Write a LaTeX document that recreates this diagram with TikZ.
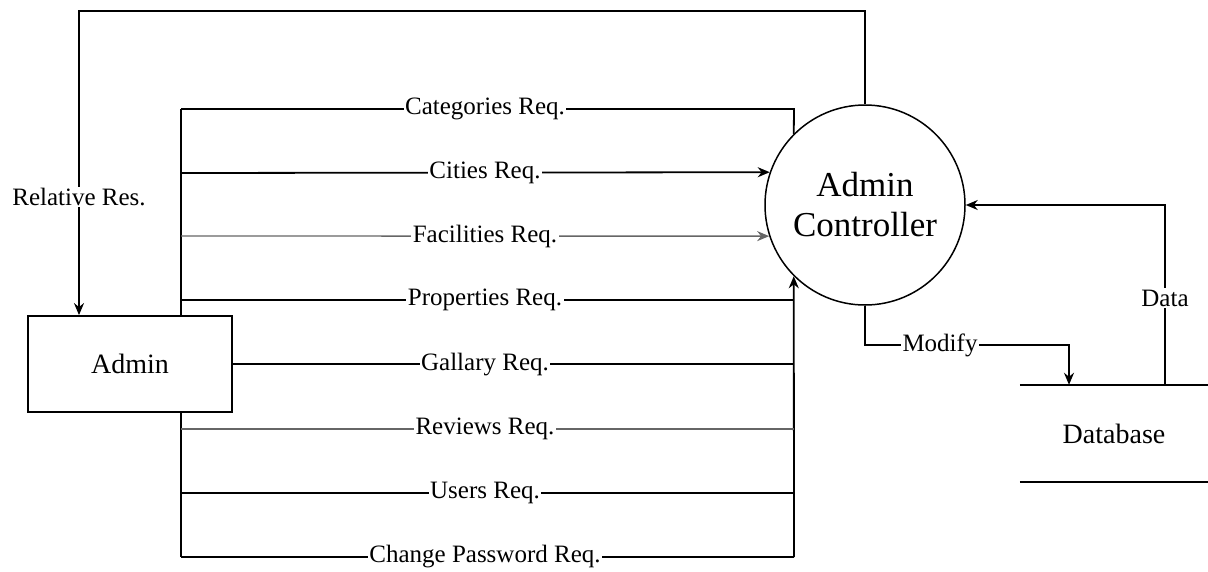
\documentclass[tikz,border=0pt]{standalone}
\usepackage{fontspec}
\setmainfont{Liberation Serif}
\usetikzlibrary{arrows.meta}
\begin{document}
\begin{tikzpicture}[x=1pt,y=-1pt,
  conn/.style={line width=1.8pt,black},
  thinconn/.style={line width=1.4pt,black!60},
  arr/.style={conn,-{Stealth[length=12pt,width=10pt]}},
  thinarr/.style={thinconn,-{Stealth[length=12pt,width=10pt]}},
  lbl/.style={fill=white,inner sep=1.5pt,font=\fontsize{25}{28}\selectfont},
  procbox/.style={circle,draw,line width=1.5pt,minimum size=200pt,inner sep=0pt,align=center,font=\fontsize{35}{40}\selectfont},
  entbox/.style={rectangle,draw,line width=1.8pt,minimum width=204pt,minimum height=96pt,inner sep=0pt,font=\fontsize{28}{32}\selectfont},
  storebox/.style={rectangle,minimum width=188pt,minimum height=97pt,inner sep=0pt,font=\fontsize{28}{32}\selectfont}
]
\useasboundingbox (0,0) rectangle (1208,571);

\node[procbox] (ctrl) at (865,205) {Admin\\Controller};
\node[entbox] (admin) at (130,364) {Admin};
\node[storebox] (db) at (1114,433.5) {Database};
\draw[conn] (db.north west) -- (db.north east);
\draw[conn] (db.south west) -- (db.south east);

% Relative Res.
\coordinate (rtop) at (79,11);
\draw[arr] (ctrl.north) |- (rtop) -- (rtop |- admin.north);
\node[lbl] (lrel) at (79,197) {Relative Res.};

% bus
\coordinate (busTop) at (181,109);
\coordinate (busBot) at (181,557);
\coordinate (jTop) at (794,109);
\coordinate (jBot) at (794,557);
\draw[conn] (busTop) -- (busTop |- admin.north);
\draw[conn] (admin.south -| busBot) -- (busBot);

% Categories
\draw[conn] (busTop) -- (jTop) -- (ctrl.135);
\node[lbl] (lcat) at (485,109) {Categories Req.};

% Cities
\coordinate (cit) at (181,173);
\draw[arr] (cit) -- (ctrl.161.34);
\node[lbl] (lcit) at (485,173) {Cities Req.};

% Facilities
\coordinate (fac) at (181,236);
\draw[thinarr] (fac) -- (ctrl.198.06);
\node[lbl] (lfac) at (485,236) {Facilities Req.};

% bottom group
\draw[arr] (jBot) -- (ctrl.225);
\coordinate (pro) at (181,300);
\draw[conn] (pro) -- (pro -| jBot);
\node[lbl] (lpro) at (485,300) {Properties Req.};

\draw[conn] (admin.east) -- (admin.east -| jBot);
\node[lbl] (lgal) at (485,365) {Gallary Req.};

\coordinate (rev) at (181,429);
\draw[thinconn] (rev) -- (rev -| jBot);
\node[lbl] (lrev) at (485,429) {Reviews Req.};

\coordinate (usr) at (181,493);
\draw[conn] (usr) -- (usr -| jBot);
\node[lbl] (lusr) at (485,493) {Users Req.};

\draw[conn] (busBot) -- (jBot);
\node[lbl] (lchp) at (485,557) {Change Password Req.};

% Modify
\coordinate (m1) at (1069,345);
\draw[arr] (ctrl.south) |- (m1) -- (m1 |- db.north);
\node[lbl] (lmod) at (940,345) {Modify};

% Data
\coordinate (d1) at (1165,205);
\draw[arr] (d1 |- db.north) -- (d1) -- (ctrl.east);
\node[lbl] (ldat) at (1165,298) {Data};
\end{tikzpicture}
\end{document}
